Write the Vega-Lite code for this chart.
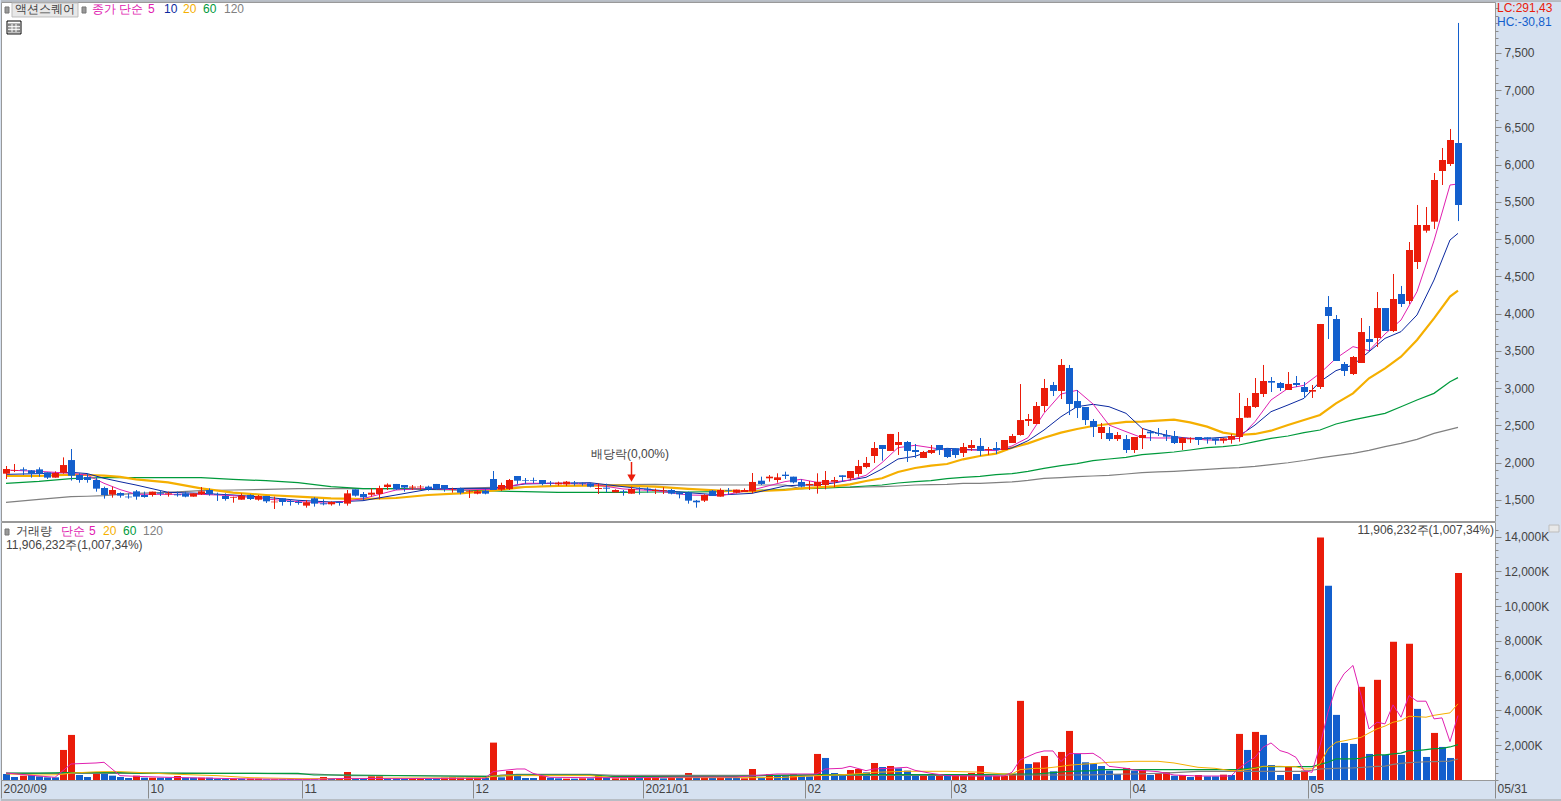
{"$schema":"https://vega.github.io/schema/vega-lite/v6.json","background":"#D6E1F0","padding":{"left":0,"top":0,"right":0,"bottom":0},"spacing":1,"bounds":"flush","config":{"view":{"stroke":"#999999","strokeWidth":1,"fill":"#FFFFFF"},"font":"Liberation Sans","axis":{"labelFont":"Liberation Sans","labelFontSize":12,"labelColor":"#444444","tickColor":"#8A8A8A","domain":false,"grid":false,"title":null}},
"datasets":{
"d":[{"i":0,"o":1853,"h":1956,"l":1782,"c":1916,"v":346,"r":0},{"i":1,"o":1893,"h":1983,"l":1875,"c":1902,"v":173,"r":0},{"i":2,"o":1911,"h":1938,"l":1835,"c":1898,"v":250,"r":1},{"i":3,"o":1898,"h":1902,"l":1800,"c":1853,"v":288,"r":0},{"i":4,"o":1911,"h":1938,"l":1813,"c":1853,"v":211,"r":0},{"i":5,"o":1871,"h":1871,"l":1782,"c":1800,"v":154,"r":0},{"i":6,"o":1800,"h":1884,"l":1800,"c":1862,"v":154,"r":0},{"i":7,"o":1867,"h":2072,"l":1853,"c":1969,"v":1728,"r":1},{"i":8,"o":2036,"h":2184,"l":1760,"c":1826,"v":2592,"r":1},{"i":9,"o":1835,"h":1858,"l":1732,"c":1768,"v":288,"r":0},{"i":10,"o":1808,"h":1858,"l":1732,"c":1768,"v":173,"r":0},{"i":11,"o":1768,"h":1813,"l":1612,"c":1652,"v":346,"r":1},{"i":12,"o":1661,"h":1679,"l":1518,"c":1567,"v":346,"r":0},{"i":13,"o":1572,"h":1679,"l":1531,"c":1634,"v":250,"r":0},{"i":14,"o":1594,"h":1603,"l":1531,"c":1558,"v":173,"r":0},{"i":15,"o":1545,"h":1589,"l":1518,"c":1536,"v":115,"r":0},{"i":16,"o":1616,"h":1634,"l":1504,"c":1545,"v":250,"r":1},{"i":17,"o":1567,"h":1612,"l":1531,"c":1540,"v":134,"r":0},{"i":18,"o":1567,"h":1612,"l":1545,"c":1612,"v":134,"r":1},{"i":19,"o":1598,"h":1634,"l":1554,"c":1585,"v":134,"r":0},{"i":20,"o":1576,"h":1612,"l":1545,"c":1589,"v":134,"r":0},{"i":21,"o":1576,"h":1612,"l":1545,"c":1563,"v":230,"r":1},{"i":22,"o":1589,"h":1612,"l":1536,"c":1545,"v":134,"r":0},{"i":23,"o":1545,"h":1589,"l":1545,"c":1589,"v":134,"r":0},{"i":24,"o":1576,"h":1674,"l":1567,"c":1616,"v":134,"r":1},{"i":25,"o":1634,"h":1656,"l":1558,"c":1576,"v":134,"r":0},{"i":26,"o":1576,"h":1598,"l":1487,"c":1567,"v":77,"r":0},{"i":27,"o":1554,"h":1589,"l":1491,"c":1513,"v":77,"r":0},{"i":28,"o":1527,"h":1545,"l":1464,"c":1536,"v":77,"r":1},{"i":29,"o":1504,"h":1589,"l":1504,"c":1558,"v":77,"r":0},{"i":30,"o":1567,"h":1576,"l":1500,"c":1513,"v":77,"r":1},{"i":31,"o":1504,"h":1567,"l":1491,"c":1554,"v":77,"r":1},{"i":32,"o":1554,"h":1554,"l":1460,"c":1482,"v":38,"r":0},{"i":33,"o":1469,"h":1545,"l":1379,"c":1478,"v":38,"r":1},{"i":34,"o":1522,"h":1522,"l":1424,"c":1473,"v":38,"r":0},{"i":35,"o":1487,"h":1509,"l":1424,"c":1473,"v":38,"r":0},{"i":36,"o":1473,"h":1500,"l":1437,"c":1460,"v":38,"r":0},{"i":37,"o":1424,"h":1500,"l":1397,"c":1469,"v":38,"r":1},{"i":38,"o":1522,"h":1536,"l":1411,"c":1451,"v":38,"r":0},{"i":39,"o":1455,"h":1509,"l":1428,"c":1442,"v":173,"r":1},{"i":40,"o":1442,"h":1482,"l":1424,"c":1473,"v":77,"r":0},{"i":41,"o":1473,"h":1473,"l":1424,"c":1460,"v":77,"r":1},{"i":42,"o":1451,"h":1634,"l":1424,"c":1589,"v":460,"r":1},{"i":43,"o":1643,"h":1643,"l":1545,"c":1558,"v":77,"r":0},{"i":44,"o":1580,"h":1607,"l":1500,"c":1536,"v":77,"r":0},{"i":45,"o":1571,"h":1656,"l":1545,"c":1598,"v":211,"r":1},{"i":46,"o":1580,"h":1692,"l":1509,"c":1661,"v":211,"r":1},{"i":47,"o":1674,"h":1723,"l":1634,"c":1706,"v":96,"r":0},{"i":48,"o":1715,"h":1715,"l":1634,"c":1643,"v":96,"r":0},{"i":49,"o":1701,"h":1701,"l":1612,"c":1666,"v":77,"r":0},{"i":50,"o":1666,"h":1701,"l":1634,"c":1679,"v":77,"r":1},{"i":51,"o":1670,"h":1701,"l":1634,"c":1679,"v":96,"r":1},{"i":52,"o":1679,"h":1692,"l":1625,"c":1643,"v":77,"r":0},{"i":53,"o":1715,"h":1715,"l":1634,"c":1648,"v":96,"r":0},{"i":54,"o":1701,"h":1701,"l":1612,"c":1648,"v":134,"r":1},{"i":55,"o":1634,"h":1665,"l":1598,"c":1640,"v":154,"r":1},{"i":56,"o":1656,"h":1665,"l":1576,"c":1598,"v":134,"r":1},{"i":57,"o":1607,"h":1634,"l":1527,"c":1616,"v":134,"r":1},{"i":58,"o":1585,"h":1634,"l":1576,"c":1616,"v":134,"r":1},{"i":59,"o":1625,"h":1643,"l":1576,"c":1585,"v":134,"r":0},{"i":60,"o":1782,"h":1889,"l":1634,"c":1634,"v":2150,"r":1},{"i":61,"o":1639,"h":1732,"l":1621,"c":1701,"v":154,"r":0},{"i":62,"o":1648,"h":1782,"l":1634,"c":1768,"v":518,"r":1},{"i":63,"o":1822,"h":1822,"l":1715,"c":1759,"v":288,"r":0},{"i":64,"o":1764,"h":1795,"l":1715,"c":1755,"v":115,"r":0},{"i":65,"o":1768,"h":1800,"l":1724,"c":1759,"v":115,"r":0},{"i":66,"o":1768,"h":1768,"l":1697,"c":1715,"v":250,"r":1},{"i":67,"o":1732,"h":1755,"l":1692,"c":1724,"v":134,"r":0},{"i":68,"o":1710,"h":1746,"l":1692,"c":1732,"v":96,"r":0},{"i":69,"o":1710,"h":1755,"l":1688,"c":1746,"v":77,"r":1},{"i":70,"o":1732,"h":1755,"l":1692,"c":1719,"v":77,"r":0},{"i":71,"o":1728,"h":1737,"l":1692,"c":1719,"v":96,"r":1},{"i":72,"o":1723,"h":1728,"l":1670,"c":1679,"v":96,"r":0},{"i":73,"o":1648,"h":1723,"l":1580,"c":1661,"v":269,"r":1},{"i":74,"o":1665,"h":1719,"l":1603,"c":1652,"v":134,"r":0},{"i":75,"o":1603,"h":1643,"l":1603,"c":1634,"v":96,"r":1},{"i":76,"o":1616,"h":1634,"l":1558,"c":1607,"v":96,"r":1},{"i":77,"o":1585,"h":1680,"l":1585,"c":1648,"v":250,"r":1},{"i":78,"o":1656,"h":1670,"l":1572,"c":1648,"v":115,"r":0},{"i":79,"o":1652,"h":1670,"l":1598,"c":1639,"v":134,"r":1},{"i":80,"o":1621,"h":1652,"l":1580,"c":1634,"v":250,"r":1},{"i":81,"o":1625,"h":1670,"l":1580,"c":1634,"v":96,"r":0},{"i":82,"o":1634,"h":1648,"l":1576,"c":1585,"v":134,"r":1},{"i":83,"o":1603,"h":1612,"l":1522,"c":1576,"v":134,"r":0},{"i":84,"o":1603,"h":1612,"l":1451,"c":1491,"v":403,"r":1},{"i":85,"o":1491,"h":1500,"l":1397,"c":1469,"v":134,"r":0},{"i":86,"o":1491,"h":1576,"l":1473,"c":1567,"v":134,"r":1},{"i":87,"o":1625,"h":1634,"l":1554,"c":1554,"v":134,"r":0},{"i":88,"o":1545,"h":1656,"l":1545,"c":1634,"v":134,"r":1},{"i":89,"o":1634,"h":1661,"l":1567,"c":1625,"v":134,"r":0},{"i":90,"o":1598,"h":1639,"l":1589,"c":1639,"v":134,"r":0},{"i":91,"o":1607,"h":1656,"l":1607,"c":1634,"v":96,"r":1},{"i":92,"o":1616,"h":1862,"l":1589,"c":1742,"v":634,"r":1},{"i":93,"o":1759,"h":1813,"l":1701,"c":1715,"v":134,"r":0},{"i":94,"o":1791,"h":1835,"l":1746,"c":1813,"v":346,"r":1},{"i":95,"o":1768,"h":1858,"l":1732,"c":1804,"v":250,"r":0},{"i":96,"o":1840,"h":1880,"l":1782,"c":1822,"v":250,"r":0},{"i":97,"o":1813,"h":1813,"l":1723,"c":1737,"v":346,"r":1},{"i":98,"o":1742,"h":1777,"l":1670,"c":1679,"v":250,"r":0},{"i":99,"o":1697,"h":1755,"l":1634,"c":1715,"v":211,"r":0},{"i":100,"o":1688,"h":1858,"l":1585,"c":1742,"v":1498,"r":1},{"i":101,"o":1701,"h":1889,"l":1643,"c":1768,"v":1267,"r":0},{"i":102,"o":1746,"h":1809,"l":1670,"c":1768,"v":403,"r":0},{"i":103,"o":1831,"h":1831,"l":1746,"c":1809,"v":250,"r":0},{"i":104,"o":1791,"h":1889,"l":1764,"c":1889,"v":576,"r":1},{"i":105,"o":1849,"h":2037,"l":1813,"c":1956,"v":634,"r":1},{"i":106,"o":1943,"h":2077,"l":1925,"c":1997,"v":442,"r":0},{"i":107,"o":2090,"h":2278,"l":1997,"c":2198,"v":979,"r":1},{"i":108,"o":2238,"h":2238,"l":2028,"c":2184,"v":749,"r":0},{"i":109,"o":2158,"h":2386,"l":2158,"c":2386,"v":806,"r":1},{"i":110,"o":2238,"h":2412,"l":2104,"c":2278,"v":672,"r":0},{"i":111,"o":2278,"h":2292,"l":2010,"c":2158,"v":538,"r":0},{"i":112,"o":2171,"h":2251,"l":2064,"c":2144,"v":250,"r":0},{"i":113,"o":2064,"h":2158,"l":2064,"c":2144,"v":250,"r":1},{"i":114,"o":2131,"h":2238,"l":2117,"c":2171,"v":346,"r":0},{"i":115,"o":2238,"h":2238,"l":2104,"c":2171,"v":250,"r":1},{"i":116,"o":2193,"h":2193,"l":2064,"c":2077,"v":250,"r":0},{"i":117,"o":2193,"h":2193,"l":2064,"c":2104,"v":250,"r":1},{"i":118,"o":2131,"h":2265,"l":2077,"c":2211,"v":250,"r":1},{"i":119,"o":2198,"h":2305,"l":2158,"c":2238,"v":403,"r":1},{"i":120,"o":2225,"h":2332,"l":2090,"c":2158,"v":806,"r":1},{"i":121,"o":2171,"h":2211,"l":2104,"c":2184,"v":250,"r":0},{"i":122,"o":2198,"h":2278,"l":2117,"c":2171,"v":250,"r":1},{"i":123,"o":2171,"h":2305,"l":2171,"c":2305,"v":250,"r":1},{"i":124,"o":2265,"h":2386,"l":2265,"c":2359,"v":346,"r":1},{"i":125,"o":2372,"h":3056,"l":2363,"c":2573,"v":4550,"r":1},{"i":126,"o":2560,"h":2654,"l":2493,"c":2587,"v":922,"r":0},{"i":127,"o":2520,"h":2815,"l":2520,"c":2761,"v":1018,"r":1},{"i":128,"o":2761,"h":3124,"l":2681,"c":3003,"v":1382,"r":1},{"i":129,"o":3043,"h":3084,"l":2895,"c":2963,"v":499,"r":0},{"i":130,"o":2963,"h":3392,"l":2855,"c":3312,"v":1613,"r":1},{"i":131,"o":3271,"h":3312,"l":2640,"c":2788,"v":2822,"r":1},{"i":132,"o":2828,"h":2976,"l":2600,"c":2735,"v":1498,"r":0},{"i":133,"o":2748,"h":2748,"l":2506,"c":2573,"v":1018,"r":0},{"i":134,"o":2560,"h":2587,"l":2345,"c":2480,"v":941,"r":0},{"i":135,"o":2399,"h":2533,"l":2318,"c":2480,"v":806,"r":0},{"i":136,"o":2399,"h":2480,"l":2292,"c":2318,"v":538,"r":0},{"i":137,"o":2318,"h":2412,"l":2292,"c":2372,"v":346,"r":0},{"i":138,"o":2318,"h":2372,"l":2131,"c":2171,"v":691,"r":1},{"i":139,"o":2171,"h":2345,"l":2131,"c":2345,"v":538,"r":0},{"i":140,"o":2332,"h":2466,"l":2184,"c":2372,"v":595,"r":1},{"i":141,"o":2417,"h":2439,"l":2292,"c":2395,"v":288,"r":0},{"i":142,"o":2395,"h":2466,"l":2359,"c":2386,"v":384,"r":1},{"i":143,"o":2372,"h":2439,"l":2292,"c":2350,"v":461,"r":1},{"i":144,"o":2359,"h":2426,"l":2251,"c":2265,"v":250,"r":0},{"i":145,"o":2265,"h":2345,"l":2171,"c":2332,"v":288,"r":1},{"i":146,"o":2314,"h":2341,"l":2265,"c":2327,"v":173,"r":0},{"i":147,"o":2345,"h":2345,"l":2238,"c":2305,"v":288,"r":1},{"i":148,"o":2341,"h":2341,"l":2256,"c":2314,"v":211,"r":0},{"i":149,"o":2327,"h":2327,"l":2242,"c":2296,"v":211,"r":0},{"i":150,"o":2296,"h":2330,"l":2260,"c":2327,"v":307,"r":1},{"i":151,"o":2309,"h":2386,"l":2256,"c":2359,"v":288,"r":0},{"i":152,"o":2345,"h":2936,"l":2283,"c":2600,"v":2650,"r":1},{"i":153,"o":2605,"h":2869,"l":2605,"c":2761,"v":1728,"r":0},{"i":154,"o":2748,"h":3137,"l":2735,"c":2936,"v":2765,"r":1},{"i":155,"o":2922,"h":3312,"l":2882,"c":3097,"v":2592,"r":0},{"i":156,"o":3097,"h":3150,"l":2949,"c":3075,"v":864,"r":0},{"i":157,"o":3070,"h":3083,"l":2963,"c":3003,"v":288,"r":0},{"i":158,"o":2976,"h":3217,"l":2976,"c":3057,"v":787,"r":1},{"i":159,"o":3070,"h":3164,"l":3016,"c":3043,"v":346,"r":0},{"i":160,"o":3016,"h":3083,"l":2869,"c":2949,"v":538,"r":1},{"i":161,"o":2954,"h":3043,"l":2869,"c":2976,"v":230,"r":0},{"i":162,"o":3016,"h":3862,"l":2990,"c":3862,"v":13939,"r":1},{"i":163,"o":4090,"h":4237,"l":3660,"c":3969,"v":11174,"r":0},{"i":164,"o":3929,"h":3982,"l":3365,"c":3365,"v":3744,"r":0},{"i":165,"o":3325,"h":3352,"l":3164,"c":3231,"v":2131,"r":0},{"i":166,"o":3191,"h":3432,"l":3177,"c":3419,"v":2074,"r":0},{"i":167,"o":3338,"h":3942,"l":3338,"c":3754,"v":5357,"r":1},{"i":168,"o":3660,"h":3835,"l":3499,"c":3620,"v":1498,"r":0},{"i":169,"o":3674,"h":4291,"l":3553,"c":4076,"v":5760,"r":1},{"i":170,"o":4076,"h":4076,"l":3768,"c":3768,"v":1440,"r":0},{"i":171,"o":3768,"h":4533,"l":3754,"c":4197,"v":7949,"r":1},{"i":172,"o":4264,"h":4372,"l":4090,"c":4130,"v":1440,"r":0},{"i":173,"o":4170,"h":4962,"l":4130,"c":4855,"v":7834,"r":1},{"i":174,"o":4694,"h":5459,"l":4600,"c":5190,"v":4090,"r":0},{"i":175,"o":5114,"h":5432,"l":5087,"c":5190,"v":1325,"r":0},{"i":176,"o":5235,"h":5888,"l":5137,"c":5794,"v":2707,"r":1},{"i":177,"o":5915,"h":6224,"l":5727,"c":6063,"v":1901,"r":0},{"i":178,"o":6009,"h":6479,"l":5982,"c":6331,"v":1267,"r":0},{"i":179,"o":6291,"h":7902,"l":5243,"c":5459,"v":11906,"r":1}],
"ma":[{"i":0,"m5":1902,"m10":1844,"m20":1822,"m60":1724,"m120":1469},{"i":4,"m5":1884,"m10":1853,"m20":1822,"m60":1750,"m120":1509},{"i":8,"m5":1858,"m10":1871,"m20":1840,"m60":1786,"m120":1545},{"i":10,"m5":1835,"m10":1855,"m20":1835,"m60":1795,"m120":1550},{"i":12,"m5":1724,"m10":1791,"m20":1826,"m60":1800,"m120":1558},{"i":14,"m5":1640,"m10":1745,"m20":1810,"m60":1800,"m120":1575},{"i":16,"m5":1576,"m10":1701,"m20":1777,"m60":1800,"m120":1589},{"i":20,"m5":1576,"m10":1603,"m20":1737,"m60":1800,"m120":1603},{"i":24,"m5":1576,"m10":1589,"m20":1656,"m60":1800,"m120":1625},{"i":28,"m5":1558,"m10":1567,"m20":1598,"m60":1777,"m120":1634},{"i":32,"m5":1513,"m10":1536,"m20":1567,"m60":1759,"m120":1643},{"i":36,"m5":1478,"m10":1496,"m20":1545,"m60":1732,"m120":1652},{"i":40,"m5":1455,"m10":1473,"m20":1522,"m60":1679,"m120":1652},{"i":44,"m5":1518,"m10":1491,"m20":1513,"m60":1652,"m120":1652},{"i":48,"m5":1634,"m10":1567,"m20":1527,"m60":1652,"m120":1652},{"i":52,"m5":1656,"m10":1643,"m20":1567,"m60":1643,"m120":1652},{"i":56,"m5":1634,"m10":1656,"m20":1589,"m60":1634,"m120":1656},{"i":60,"m5":1643,"m10":1656,"m20":1625,"m60":1621,"m120":1670},{"i":64,"m5":1724,"m10":1715,"m20":1674,"m60":1612,"m120":1674},{"i":68,"m5":1724,"m10":1724,"m20":1688,"m60":1603,"m120":1692},{"i":72,"m5":1715,"m10":1732,"m20":1692,"m60":1603,"m120":1701},{"i":76,"m5":1648,"m10":1679,"m20":1692,"m60":1603,"m120":1706},{"i":80,"m5":1625,"m10":1634,"m20":1679,"m60":1607,"m120":1710},{"i":84,"m5":1567,"m10":1598,"m20":1648,"m60":1607,"m120":1701},{"i":88,"m5":1558,"m10":1567,"m20":1625,"m60":1612,"m120":1701},{"i":92,"m5":1634,"m10":1589,"m20":1616,"m60":1625,"m120":1701},{"i":96,"m5":1746,"m10":1688,"m20":1634,"m60":1643,"m120":1701},{"i":98,"m5":1777,"m10":1701,"m20":1657,"m60":1652,"m120":1652},{"i":100,"m5":1737,"m10":1701,"m20":1670,"m60":1657,"m120":1666},{"i":102,"m5":1742,"m10":1728,"m20":1683,"m60":1666,"m120":1670},{"i":104,"m5":1768,"m10":1768,"m20":1710,"m60":1674,"m120":1670},{"i":106,"m5":1831,"m10":1804,"m20":1755,"m60":1688,"m120":1674},{"i":108,"m5":2001,"m10":1916,"m20":1791,"m60":1701,"m120":1679},{"i":110,"m5":2202,"m10":2050,"m20":1876,"m60":1728,"m120":1688},{"i":112,"m5":2234,"m10":2086,"m20":1929,"m60":1746,"m120":1701},{"i":114,"m5":2202,"m10":2162,"m20":1961,"m60":1759,"m120":1706},{"i":116,"m5":2166,"m10":2193,"m20":1983,"m60":1786,"m120":1710},{"i":118,"m5":2171,"m10":2180,"m20":2046,"m60":1804,"m120":1724},{"i":120,"m5":2171,"m10":2171,"m20":2090,"m60":1818,"m120":1724},{"i":122,"m5":2162,"m10":2171,"m20":2122,"m60":1840,"m120":1733},{"i":124,"m5":2225,"m10":2198,"m20":2202,"m60":1853,"m120":1742},{"i":126,"m5":2336,"m10":2296,"m20":2260,"m60":1885,"m120":1764},{"i":128,"m5":2663,"m10":2439,"m20":2336,"m60":1925,"m120":1791},{"i":130,"m5":2922,"m10":2618,"m20":2404,"m60":1961,"m120":1800},{"i":132,"m5":2972,"m10":2752,"m20":2453,"m60":1988,"m120":1813},{"i":134,"m5":2788,"m10":2784,"m20":2493,"m60":2028,"m120":1822},{"i":136,"m5":2506,"m10":2752,"m20":2520,"m60":2050,"m120":1831},{"i":138,"m5":2417,"m10":2663,"m20":2547,"m60":2073,"m120":1849},{"i":140,"m5":2336,"m10":2462,"m20":2551,"m60":2108,"m120":1867},{"i":142,"m5":2332,"m10":2395,"m20":2565,"m60":2126,"m120":1876},{"i":144,"m5":2332,"m10":2350,"m20":2578,"m60":2144,"m120":1885},{"i":146,"m5":2327,"m10":2327,"m20":2542,"m60":2171,"m120":1898},{"i":148,"m5":2305,"m10":2327,"m20":2484,"m60":2202,"m120":1910},{"i":150,"m5":2305,"m10":2341,"m20":2404,"m60":2216,"m120":1925},{"i":152,"m5":2327,"m10":2359,"m20":2372,"m60":2238,"m120":1935},{"i":154,"m5":2551,"m10":2506,"m20":2386,"m60":2283,"m120":1950},{"i":156,"m5":2842,"m10":2685,"m20":2430,"m60":2327,"m120":1975},{"i":158,"m5":2998,"m10":2775,"m20":2506,"m60":2359,"m120":2000},{"i":160,"m5":3039,"m10":2864,"m20":2574,"m60":2404,"m120":2030},{"i":162,"m5":3200,"m10":3088,"m20":2641,"m60":2439,"m120":2065},{"i":164,"m5":3401,"m10":3236,"m20":2797,"m60":2520,"m120":2095},{"i":166,"m5":3558,"m10":3312,"m20":2931,"m60":2574,"m120":2125},{"i":168,"m5":3504,"m10":3490,"m20":3133,"m60":2618,"m120":2165},{"i":170,"m5":3728,"m10":3669,"m20":3267,"m60":2663,"m120":2216},{"i":172,"m5":3915,"m10":3759,"m20":3423,"m60":2752,"m120":2260},{"i":174,"m5":4296,"m10":3983,"m20":3647,"m60":2842,"m120":2314},{"i":176,"m5":4980,"m10":4452,"m20":3938,"m60":2931,"m120":2394},{"i":178,"m5":5727,"m10":4989,"m20":4229,"m60":3088,"m120":2448},{"i":179,"m5":5741,"m10":5078,"m20":4309,"m60":3142,"m120":2475}],
"vm":[{"i":0,"v5":400,"v20":350,"v60":400,"v120":384},{"i":4,"v5":230,"v20":288,"v60":400,"v120":384},{"i":6,"v5":154,"v20":300,"v60":410,"v120":384},{"i":7,"v5":538,"v20":330,"v60":422,"v120":384},{"i":8,"v5":922,"v20":400,"v60":422,"v120":384},{"i":11,"v5":979,"v20":470,"v60":422,"v120":384},{"i":12,"v5":1018,"v20":480,"v60":422,"v120":384},{"i":13,"v5":634,"v20":480,"v60":422,"v120":384},{"i":14,"v5":250,"v20":480,"v60":422,"v120":384},{"i":16,"v5":211,"v20":442,"v60":400,"v120":384},{"i":20,"v5":154,"v20":346,"v60":390,"v120":384},{"i":26,"v5":96,"v20":250,"v60":384,"v120":384},{"i":30,"v5":60,"v20":134,"v60":384,"v120":384},{"i":36,"v5":38,"v20":77,"v60":384,"v120":346},{"i":38,"v5":38,"v20":77,"v60":288,"v120":346},{"i":42,"v5":96,"v20":77,"v60":288,"v120":250},{"i":48,"v5":77,"v20":115,"v60":260,"v120":250},{"i":54,"v5":96,"v20":115,"v60":230,"v120":230},{"i":59,"v5":100,"v20":130,"v60":211,"v120":211},{"i":60,"v5":480,"v20":211,"v60":211,"v120":211},{"i":61,"v5":538,"v20":240,"v60":240,"v120":280},{"i":63,"v5":634,"v20":250,"v60":288,"v120":326},{"i":64,"v5":634,"v20":250,"v60":288,"v120":326},{"i":65,"v5":384,"v20":250,"v60":288,"v120":326},{"i":66,"v5":250,"v20":250,"v60":288,"v120":326},{"i":67,"v5":154,"v20":250,"v60":288,"v120":326},{"i":72,"v5":134,"v20":250,"v60":288,"v120":326},{"i":75,"v5":134,"v20":134,"v60":190,"v120":269},{"i":80,"v5":150,"v20":134,"v60":190,"v120":269},{"i":84,"v5":173,"v20":134,"v60":211,"v120":269},{"i":90,"v5":173,"v20":134,"v60":211,"v120":269},{"i":95,"v5":346,"v20":134,"v60":270,"v120":269},{"i":100,"v5":346,"v20":250,"v60":307,"v120":269},{"i":101,"v5":634,"v20":270,"v60":307,"v120":269},{"i":103,"v5":672,"v20":307,"v60":307,"v120":269},{"i":104,"v5":787,"v20":330,"v60":307,"v120":269},{"i":106,"v5":538,"v20":384,"v60":307,"v120":269},{"i":107,"v5":634,"v20":442,"v60":307,"v120":269},{"i":109,"v5":672,"v20":470,"v60":307,"v120":269},{"i":111,"v5":730,"v20":500,"v60":307,"v120":269},{"i":112,"v5":557,"v20":500,"v60":307,"v120":269},{"i":114,"v5":384,"v20":500,"v60":307,"v120":269},{"i":116,"v5":250,"v20":500,"v60":307,"v120":269},{"i":120,"v5":220,"v20":450,"v60":307,"v120":269},{"i":123,"v5":230,"v20":346,"v60":346,"v120":288},{"i":124,"v5":442,"v20":346,"v60":346,"v120":288},{"i":125,"v5":1152,"v20":595,"v60":346,"v120":288},{"i":127,"v5":1555,"v20":672,"v60":346,"v120":288},{"i":128,"v5":1670,"v20":672,"v60":380,"v120":288},{"i":129,"v5":1670,"v20":730,"v60":420,"v120":288},{"i":130,"v5":1056,"v20":780,"v60":460,"v120":288},{"i":131,"v5":1517,"v20":850,"v60":499,"v120":288},{"i":133,"v5":1517,"v20":920,"v60":520,"v120":300},{"i":134,"v5":1536,"v20":941,"v60":540,"v120":300},{"i":135,"v5":1248,"v20":980,"v60":595,"v120":310},{"i":136,"v5":787,"v20":1018,"v60":595,"v120":320},{"i":138,"v5":672,"v20":1050,"v60":595,"v120":346},{"i":139,"v5":576,"v20":1075,"v60":595,"v120":346},{"i":142,"v5":480,"v20":1075,"v60":595,"v120":380},{"i":144,"v5":288,"v20":979,"v60":595,"v120":420},{"i":147,"v5":230,"v20":730,"v60":595,"v120":499},{"i":149,"v5":230,"v20":672,"v60":595,"v120":499},{"i":151,"v5":230,"v20":538,"v60":595,"v120":499},{"i":152,"v5":672,"v20":538,"v60":595,"v120":499},{"i":153,"v5":1018,"v20":600,"v60":650,"v120":499},{"i":154,"v5":1300,"v20":672,"v60":700,"v120":499},{"i":155,"v5":1882,"v20":787,"v60":768,"v120":499},{"i":156,"v5":2131,"v20":787,"v60":768,"v120":499},{"i":157,"v5":1690,"v20":787,"v60":768,"v120":499},{"i":158,"v5":1555,"v20":768,"v60":768,"v120":499},{"i":159,"v5":1300,"v20":768,"v60":768,"v120":499},{"i":160,"v5":538,"v20":634,"v60":768,"v120":499},{"i":161,"v5":442,"v20":640,"v60":768,"v120":560},{"i":162,"v5":1978,"v20":922,"v60":900,"v120":634},{"i":163,"v5":3898,"v20":1786,"v60":1018,"v120":650},{"i":164,"v5":5338,"v20":2170,"v60":1210,"v120":670},{"i":165,"v5":6106,"v20":2250,"v60":1210,"v120":690},{"i":166,"v5":6586,"v20":2362,"v60":1210,"v120":700},{"i":167,"v5":4858,"v20":2450,"v60":1250,"v120":720},{"i":168,"v5":2938,"v20":2700,"v60":1350,"v120":750},{"i":169,"v5":3322,"v20":2938,"v60":1440,"v120":787},{"i":170,"v5":3226,"v20":3100,"v60":1440,"v120":800},{"i":171,"v5":4320,"v20":3322,"v60":1500,"v120":900},{"i":172,"v5":3610,"v20":3418,"v60":1550,"v120":960},{"i":173,"v5":4858,"v20":3667,"v60":1690,"v120":1000},{"i":174,"v5":4531,"v20":3640,"v60":1690,"v120":1020},{"i":175,"v5":4531,"v20":3610,"v60":1750,"v120":1050},{"i":176,"v5":3514,"v20":3720,"v60":1800,"v120":1060},{"i":177,"v5":3571,"v20":3790,"v60":1824,"v120":1075},{"i":178,"v5":2208,"v20":3859,"v60":1900,"v120":1090},{"i":179,"v5":3706,"v20":4378,"v60":2035,"v120":1210}],
"pt":[{"i":1.07,"p":8089,"t":"액션스퀘어","k":"name"},{"i":10.57,"p":8089,"t":"종가 단순","k":"m5"},{"i":17.47,"p":8089,"t":"5","k":"m5"},{"i":19.45,"p":8089,"t":"10","k":"m10"},{"i":21.79,"p":8089,"t":"20","k":"m20"},{"i":24.25,"p":8089,"t":"60","k":"m60"},{"i":26.84,"p":8089,"t":"120","k":"m120"},{"i":72.1,"p":2117,"t":"배당락(0,00%)","k":"name"},{"i":183.8,"p":8103,"t":"LC:291,43","k":"lc"},{"i":183.8,"p":7915,"t":"HC:-30,81","k":"hc"}],
"vt":[{"i":1.2,"v":14320,"t":"거래량","k":"vol"},{"i":6.75,"v":14320,"t":"단순","k":"m5"},{"i":10.2,"v":14320,"t":"5","k":"m5"},{"i":11.9,"v":14320,"t":"20","k":"m20"},{"i":14.4,"v":14320,"t":"60","k":"m60"},{"i":16.9,"v":14320,"t":"120","k":"m120"},{"i":-0.05,"v":13510,"t":"11,906,232주(1,007,34%)","k":"name"}],
"pr":[{"a":0.7,"b":8.84,"p":8170,"q":7982,"k":"box"},{"a":-0.13,"b":0.37,"p":8116,"q":8035,"k":"sq"},{"a":9.3,"b":9.8,"p":8116,"q":8035,"k":"sq"},{"a":0.09,"b":1.81,"p":7928,"q":7754,"k":"cal"},{"a":0.27,"b":1.63,"p":7888,"q":7781,"k":"sq"}],
"gv":[{"i":0.73,"p":7888,"q":7781},{"i":1.18,"p":7888,"q":7781}],
"gh":[{"a":0.27,"b":1.63,"p":7852},{"a":0.27,"b":1.63,"p":7816}],
"vr":[{"a":-0.13,"b":0.37,"p":14432,"q":14087,"k":"sq"},{"a":190.2,"b":191.4,"p":14660,"q":14260,"k":"ico"}],
"arrow":[{"i":77,"p":2010,"q":1822,"tip":1795}]
},
"vconcat":[
{"width":1494,"height":519,"resolve":{"scale":{"y":"shared"},"axis":{"y":"independent"}},"encoding":{"x":{"field":"i","type":"quantitative","scale":{"domain":[-0.653,183.56],"nice":false,"zero":false,"round":true,"padding":0},"axis":null}},
"layer":[
{"data":{"name":"ma"},"mark":{"type":"line","color":"#808080","strokeWidth":1.2},"encoding":{"y":{"field":"m120","type":"quantitative","scale":{"domain":[1218,8183],"nice":false,"zero":false},"axis":{"orient":"right","values":[1500,2000,2500,3000,3500,4000,4500,5000,5500,6000,6500,7000,7500],"format":",d","labelOverlap":false,"labelFlush":false,"labelBound":false,"labelPadding":3,"tickSize":6}}}},
{"data":{"name":"ma"},"mark":{"type":"line","color":"#009A3C","strokeWidth":1.2},"encoding":{"y":{"field":"m60","type":"quantitative","axis":{"orient":"right","values":[1300,1400,1500,1600,1700,1800,1900,2000,2100,2200,2300,2400,2500,2600,2700,2800,2900,3000,3100,3200,3300,3400,3500,3600,3700,3800,3900,4000,4100,4200,4300,4400,4500,4600,4700,4800,4900,5000,5100,5200,5300,5400,5500,5600,5700,5800,5900,6000,6100,6200,6300,6400,6500,6600,6700,6800,6900,7000,7100,7200,7300,7400,7500,7600,7700,7800,7900,8000,8100],"labels":false,"tickSize":3}}}},
{"data":{"name":"ma"},"mark":{"type":"line","color":"#F5AF00","strokeWidth":2.2},"encoding":{"y":{"field":"m20","type":"quantitative","axis":null}}},
{"data":{"name":"ma"},"mark":{"type":"line","color":"#0A28A0","strokeWidth":1},"encoding":{"y":{"field":"m10","type":"quantitative","axis":null}}},
{"data":{"name":"ma"},"mark":{"type":"line","color":"#E020B0","strokeWidth":1},"encoding":{"y":{"field":"m5","type":"quantitative","axis":null}}},
{"data":{"name":"d"},"mark":{"type":"rule","strokeWidth":1,"xOffset":0.5},"encoding":{"y":{"field":"l","type":"quantitative","axis":null},"y2":{"field":"h"},"color":{"condition":{"test":"datum.c>=datum.o","value":"#EA1C0A"},"value":"#135FCD"}}},
{"data":{"name":"d"},"mark":{"type":"bar","orient":"vertical","size":7,"xOffset":0.5},"encoding":{"y":{"field":"o","type":"quantitative","axis":null},"y2":{"field":"c"},"color":{"condition":{"test":"datum.c>=datum.o","value":"#EA1C0A"},"value":"#135FCD"}}},
{"data":{"name":"pr"},"mark":{"type":"rect","strokeWidth":1},"encoding":{"x":{"field":"a","type":"quantitative"},"x2":{"field":"b"},"y":{"field":"p","type":"quantitative","axis":null},"y2":{"field":"q"},"fill":{"field":"k","scale":{"domain":["box","sq","cal"],"range":["#E8E8E8","#999999","#FFFFFF"]},"legend":null},"stroke":{"field":"k","scale":{"domain":["box","sq","cal"],"range":["#BDBDBD","#777777","#000000"]},"legend":null}}},
{"data":{"name":"gv"},"mark":{"type":"rule","color":"#FFFFFF","strokeWidth":1},"encoding":{"y":{"field":"p","type":"quantitative","axis":null},"y2":{"field":"q"}}},
{"data":{"name":"gh"},"mark":{"type":"rule","color":"#FFFFFF","strokeWidth":1},"encoding":{"x":{"field":"a","type":"quantitative"},"x2":{"field":"b"},"y":{"field":"p","type":"quantitative","axis":null}}},
{"data":{"name":"arrow"},"mark":{"type":"rule","color":"#EA1C0A","strokeWidth":1.5,"xOffset":0.5},"encoding":{"y":{"field":"p","type":"quantitative","axis":null},"y2":{"field":"q"}}},
{"data":{"name":"arrow"},"mark":{"type":"point","shape":"triangle-down","filled":true,"color":"#EA1C0A","size":70,"opacity":1,"xOffset":0.5},"encoding":{"y":{"field":"tip","type":"quantitative","axis":null}}},
{"data":{"name":"pt"},"mark":{"type":"text","align":"left","baseline":"middle","fontSize":12,"font":"Liberation Sans"},"encoding":{"y":{"field":"p","type":"quantitative","axis":null},"text":{"field":"t"},"color":{"field":"k","scale":{"domain":["name","m5","m10","m20","m60","m120","lc","hc"],"range":["#444444","#E020B0","#0A28A0","#F5AF00","#009A3C","#808080","#EA1C0A","#135FCD"]},"legend":null}}},
{"data":{"values":[{"a":-0.653,"b":191.77,"p":8196}]},"mark":{"type":"rule","color":"#999999","strokeWidth":1},"encoding":{"x":{"field":"a","type":"quantitative"},"x2":{"field":"b"},"y":{"field":"p","type":"quantitative","axis":null}}},
{"data":{"values":[{"i":191.77,"p":8196,"q":1150}]},"mark":{"type":"rule","color":"#999999","strokeWidth":1},"encoding":{"y":{"field":"p","type":"quantitative","axis":null},"y2":{"field":"q"}}}
]},
{"width":1494,"height":258,"resolve":{"scale":{"y":"shared"},"axis":{"y":"independent"}},"encoding":{"x":{"field":"i","type":"quantitative","scale":{"domain":[-0.653,183.56],"nice":false,"zero":false,"round":true,"padding":0},"axis":{"orient":"bottom","values":[-0.653,17.5,36.5,57.5,78.5,98.5,116.5,138.5,160.5,183.56],"labelExpr":"datum.value<0?'2020/09':datum.value<18?'10':datum.value<37?'11':datum.value<58?'12':datum.value<79?'2021/01':datum.value<99?'02':datum.value<117?'03':datum.value<139?'04':datum.value<161?'05':'05/31'","labelAlign":"left","labelBaseline":"top","labelOverlap":false,"labelFlush":false,"labelBound":false,"tickSize":18,"labelPadding":-15,"labelOffset":2,"tickColor":"#8A8A8A","tickWidth":1}}},
"layer":[
{"data":{"name":"d"},"mark":{"type":"bar","orient":"vertical","size":7,"xOffset":0.5},"encoding":{"y":{"field":"v","type":"quantitative","scale":{"domain":[0,14835],"nice":false,"zero":false},"axis":{"orient":"right","values":[2000,4000,6000,8000,10000,12000,14000],"labelExpr":"format(datum.value,',')+'K'","labelOverlap":false,"labelFlush":false,"labelBound":false,"labelPadding":3,"tickSize":6}},"color":{"condition":{"test":"datum.r===1","value":"#EA1C0A"},"value":"#135FCD"}}},
{"data":{"name":"vm"},"mark":{"type":"line","color":"#808080","strokeWidth":1.2},"encoding":{"y":{"field":"v120","type":"quantitative","axis":{"orient":"right","values":[0,400,800,1200,1600,2000,2400,2800,3200,3600,4000,4400,4800,5200,5600,6000,6400,6800,7200,7600,8000,8400,8800,9200,9600,10000,10400,10800,11200,11600,12000,12400,12800,13200,13600,14000,14400],"labels":false,"tickSize":3}}}},
{"data":{"name":"vm"},"mark":{"type":"line","color":"#009A3C","strokeWidth":1.2},"encoding":{"y":{"field":"v60","type":"quantitative","axis":null}}},
{"data":{"name":"vm"},"mark":{"type":"line","color":"#F5AF00","strokeWidth":1},"encoding":{"y":{"field":"v20","type":"quantitative","axis":null}}},
{"data":{"name":"vm"},"mark":{"type":"line","color":"#E020B0","strokeWidth":1},"encoding":{"y":{"field":"v5","type":"quantitative","axis":null}}},
{"data":{"name":"vr"},"mark":{"type":"rect","strokeWidth":1},"encoding":{"x":{"field":"a","type":"quantitative"},"x2":{"field":"b"},"y":{"field":"p","type":"quantitative","axis":null},"y2":{"field":"q"},"fill":{"field":"k","scale":{"domain":["sq","ico"],"range":["#999999","#555555"]},"legend":null},"stroke":{"field":"k","scale":{"domain":["sq","ico"],"range":["#777777","#555555"]},"legend":null}}},
{"data":{"name":"vt"},"mark":{"type":"text","align":"left","baseline":"middle","fontSize":12,"font":"Liberation Sans"},"encoding":{"y":{"field":"v","type":"quantitative","axis":null},"text":{"field":"t"},"color":{"field":"k","scale":{"domain":["name","vol","m5","m20","m60","m120"],"range":["#444444","#2E9A9A","#E020B0","#F5AF00","#009A3C","#808080"]},"legend":null}}},
{"data":{"values":[{"i":183.4,"v":14375,"t":"11,906,232주(1,007,34%)"}]},"mark":{"type":"text","align":"right","baseline":"middle","fontSize":12,"font":"Liberation Sans","color":"#444444"},"encoding":{"y":{"field":"v","type":"quantitative","axis":null},"text":{"field":"t"}}},
{"data":{"values":[{"a":-0.653,"b":191.77,"v":-1150}]},"mark":{"type":"rule","color":"#999999","strokeWidth":1},"encoding":{"x":{"field":"a","type":"quantitative"},"x2":{"field":"b"},"y":{"field":"v","type":"quantitative","axis":null}}},
{"data":{"values":[{"i":191.77,"v":-1150,"w":14900}]},"mark":{"type":"rule","color":"#999999","strokeWidth":1},"encoding":{"y":{"field":"v","type":"quantitative","axis":null},"y2":{"field":"w"}}}
]}
]}
